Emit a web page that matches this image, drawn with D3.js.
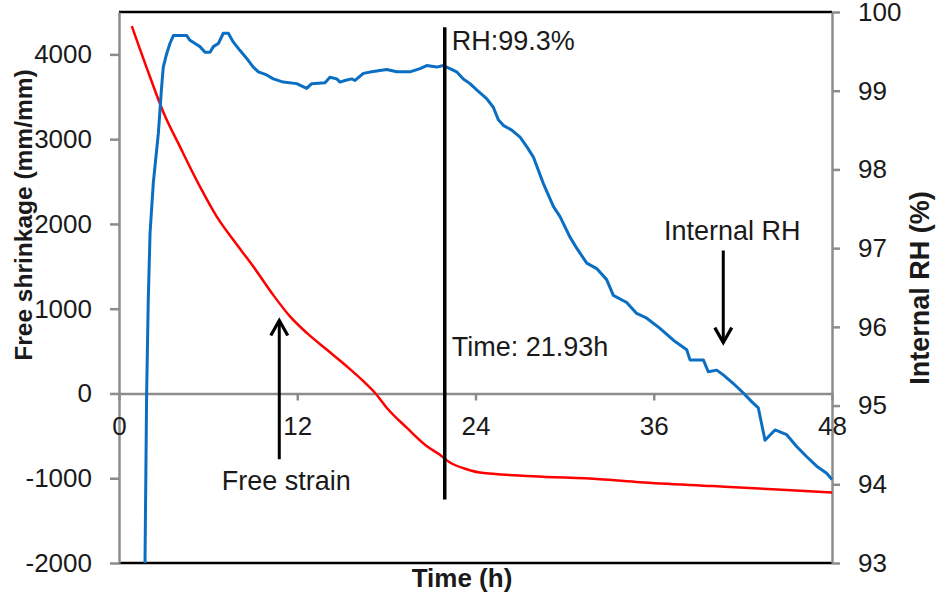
<!DOCTYPE html>
<html>
<head>
<meta charset="utf-8">
<script src="https://cdn.jsdelivr.net/npm/d3@7"></script>
<style>
  html, body { margin: 0; padding: 0; background: #fff; }
  svg { display: block; font-family: "Liberation Sans", Arial, sans-serif; }
</style>
</head>
<body>
<svg id="chart" width="939" height="595"></svg>
<script>
// Tick values for the three axes
const hourTicks = [0, 12, 24, 36, 48];
const shrinkTicks = [-2000, -1000, 0, 1000, 2000, 3000, 4000];
const rhTicks = [93, 94, 95, 96, 97, 98, 99, 100];

// Free shrinkage (mm/mm) against time (h)
const freeStrain = [
  [0.86, 4333], [2.09, 3733], [2.98, 3321], [4.11, 2909], [5.45, 2439],
  [6.58, 2086], [7.69, 1812], [9.04, 1498], [10.39, 1160], [11.51, 909],
  [12.64, 714], [13.98, 518], [15.33, 321], [16.45, 145], [17.23, 8],
  [18.02, -168], [19.37, -404], [20.71, -620], [21.56, -718], [22.28, -815],
  [23.41, -894], [24.30, -933], [27.87, -976], [32.38, -1012], [35.07, -1047],
  [40.0, -1093], [44.0, -1130], [48.0, -1168]
];

// Internal relative humidity (%) against time (h)
const internalRH = [
  [1.75, 93.00], [1.86, 95.15], [1.97, 96.34], [2.09, 97.19], [2.31, 97.83],
  [2.65, 98.46], [2.87, 99.05], [2.98, 99.30], [3.21, 99.47], [3.43, 99.60],
  [3.66, 99.70], [4.56, 99.70], [4.78, 99.64], [5.12, 99.60], [5.45, 99.56],
  [5.79, 99.49], [6.13, 99.49], [6.35, 99.56], [6.69, 99.60], [7.02, 99.73],
  [7.36, 99.73], [7.69, 99.62], [8.15, 99.51], [8.60, 99.41], [9.04, 99.30],
  [9.38, 99.24], [9.94, 99.20], [10.39, 99.15], [11.06, 99.11], [11.96, 99.09],
  [12.64, 99.03], [12.97, 99.09], [13.87, 99.10], [14.20, 99.17], [14.66, 99.15],
  [14.88, 99.11], [15.21, 99.13], [15.67, 99.15], [15.89, 99.13], [16.45, 99.22],
  [17.01, 99.24], [18.02, 99.27], [18.70, 99.24], [19.59, 99.24], [20.26, 99.28],
  [20.72, 99.32], [21.39, 99.30], [21.83, 99.32], [22.28, 99.28], [22.73, 99.24],
  [23.18, 99.15], [23.63, 99.09], [24.08, 99.01], [24.75, 98.90], [25.20, 98.79],
  [25.54, 98.63], [25.87, 98.56], [26.44, 98.50], [27.00, 98.41], [27.45, 98.29],
  [27.89, 98.16], [28.57, 97.82], [29.24, 97.53], [29.69, 97.40], [30.36, 97.14],
  [30.81, 97.00], [31.49, 96.81], [32.16, 96.74], [32.83, 96.60], [33.28, 96.40],
  [34.18, 96.31], [34.85, 96.17], [35.53, 96.11], [36.42, 95.98], [37.32, 95.83],
  [38.22, 95.71], [38.44, 95.58], [39.34, 95.58], [39.67, 95.43], [40.24, 95.45],
  [40.68, 95.39], [41.36, 95.28], [42.03, 95.16], [42.59, 95.05], [43.04, 94.97],
  [43.49, 94.56], [44.16, 94.69], [44.95, 94.63], [45.62, 94.48], [46.30, 94.35],
  [46.97, 94.23], [47.64, 94.14], [48.00, 94.06]
];

// Marked instant where humidity starts to drop
const markTime = 21.93;
const markRH = 99.3;

const svg = d3.select("#chart");
const W = 939, H = 595;
svg.append("rect").attr("width", W).attr("height", H).attr("fill", "#fff");

const plot = { left: 119, right: 832, top: 12, bottom: 563 };

const x = d3.scaleLinear().domain([0, 48]).range([plot.left, plot.right]);
const yL = d3.scaleLinear().domain([-2000, 4500]).range([plot.bottom, plot.top]);
const yR = d3.scaleLinear().domain([93, 100]).range([plot.bottom, plot.top]);

const axisGray = "#8c8c8c";
const textColor = "#1a1a1a";
const plainNumber = d => String(d);   // keeps an ASCII hyphen for negatives

// Top and bottom frame lines
svg.append("line")
  .attr("x1", plot.left).attr("x2", plot.right)
  .attr("y1", plot.top).attr("y2", plot.top)
  .attr("stroke", "#000").attr("stroke-width", 2.5);
svg.append("line")
  .attr("x1", plot.left).attr("x2", plot.right)
  .attr("y1", plot.bottom).attr("y2", plot.bottom)
  .attr("stroke", "#000").attr("stroke-width", 2.5);

function styleAxis(g) {
  g.select(".domain").attr("stroke", axisGray).attr("stroke-width", 2.5);
  g.selectAll(".tick line").attr("stroke", axisGray).attr("stroke-width", 2.5);
  g.selectAll(".tick text")
    .attr("fill", textColor)
    .style("font-size", "26px")
    .style("font-family", "'Liberation Sans', Arial, sans-serif");
}

// Left axis: free shrinkage
svg.append("g")
  .attr("transform", `translate(${plot.left},0)`)
  .call(d3.axisLeft(yL).tickValues(shrinkTicks).tickSize(9).tickSizeOuter(0).tickPadding(18).tickFormat(plainNumber))
  .call(styleAxis);

// Right axis: internal RH
svg.append("g")
  .attr("transform", `translate(${plot.right},0)`)
  .call(d3.axisRight(yR).tickValues(rhTicks).tickSize(8).tickSizeOuter(0).tickPadding(18).tickFormat(plainNumber))
  .call(styleAxis);

// Time axis crossing at zero shrinkage
const xAxis = svg.append("g")
  .attr("transform", `translate(0,${yL(0)})`)
  .call(d3.axisBottom(x).tickValues(hourTicks).tickSize(7).tickSizeOuter(0).tickFormat(plainNumber))
  .call(styleAxis);
xAxis.selectAll(".tick text").attr("y", 42).attr("dy", 0);

// Data lines
const strainLine = d3.line()
  .x(d => x(d[0])).y(d => yL(d[1]))
  .curve(d3.curveMonotoneX);
svg.append("path")
  .datum(freeStrain)
  .attr("d", strainLine)
  .attr("fill", "none")
  .attr("stroke", "#ff0000")
  .attr("stroke-width", 2.5)
  .attr("stroke-linejoin", "round");

const rhLine = d3.line()
  .x(d => x(d[0])).y(d => yR(d[1]));
svg.append("path")
  .datum(internalRH)
  .attr("d", rhLine)
  .attr("fill", "none")
  .attr("stroke", "#0a6fc2")
  .attr("stroke-width", 3)
  .attr("stroke-linejoin", "round");

// Vertical marker at the humidity turning point
const markX = x(markTime);
svg.append("line")
  .attr("x1", markX).attr("x2", markX)
  .attr("y1", yL(4320)).attr("y2", yL(-1250))
  .attr("stroke", "#000").attr("stroke-width", 3.5);

function addText(tx, ty, str, opts = {}) {
  return svg.append("text")
    .attr("x", tx).attr("y", ty)
    .attr("fill", textColor)
    .attr("text-anchor", opts.anchor || "start")
    .style("font-size", (opts.size || 27) + "px")
    .style("font-weight", opts.weight || "normal")
    .text(str);
}

addText(markX + 7, 50, `RH:${markRH}%`);
addText(markX + 7, 356, `Time: ${markTime}h`);

// Annotation arrows
function arrow(x0, y0, x1, y1) {
  svg.append("line")
    .attr("x1", x0).attr("y1", y0).attr("x2", x1).attr("y2", y1)
    .attr("stroke", "#000").attr("stroke-width", 3);
  const dir = Math.sign(y1 - y0);
  svg.append("path")
    .attr("d", `M${x1 - 8.5},${y1 - dir * 15} L${x1},${y1} L${x1 + 8.5},${y1 - dir * 15}`)
    .attr("fill", "none")
    .attr("stroke", "#000")
    .attr("stroke-width", 3.2)
    .attr("stroke-linejoin", "miter");
}

const strainArrowT = 10.79;
arrow(x(strainArrowT), yL(-776), x(strainArrowT), yL(860));
addText(x(strainArrowT) + 7, 490, "Free strain", { anchor: "middle" });

const rhArrowT = 40.68;
arrow(x(rhArrowT), yR(96.97), x(rhArrowT), yR(95.80));
addText(x(rhArrowT) + 9, 240, "Internal RH", { anchor: "middle" });

// Axis titles
addText(462, 587, "Time (h)", { anchor: "middle", weight: "bold", size: 26 });
svg.append("text")
  .attr("transform", `translate(32,${215}) rotate(-90)`)
  .attr("text-anchor", "middle")
  .attr("fill", textColor)
  .style("font-size", "24.5px").style("font-weight", "bold")
  .text("Free shrinkage (mm/mm)");
svg.append("text")
  .attr("transform", `translate(929,${288}) rotate(-90)`)
  .attr("text-anchor", "middle")
  .attr("fill", textColor)
  .style("font-size", "27px").style("font-weight", "bold")
  .text("Internal RH (%)");
</script>
</body>
</html>
